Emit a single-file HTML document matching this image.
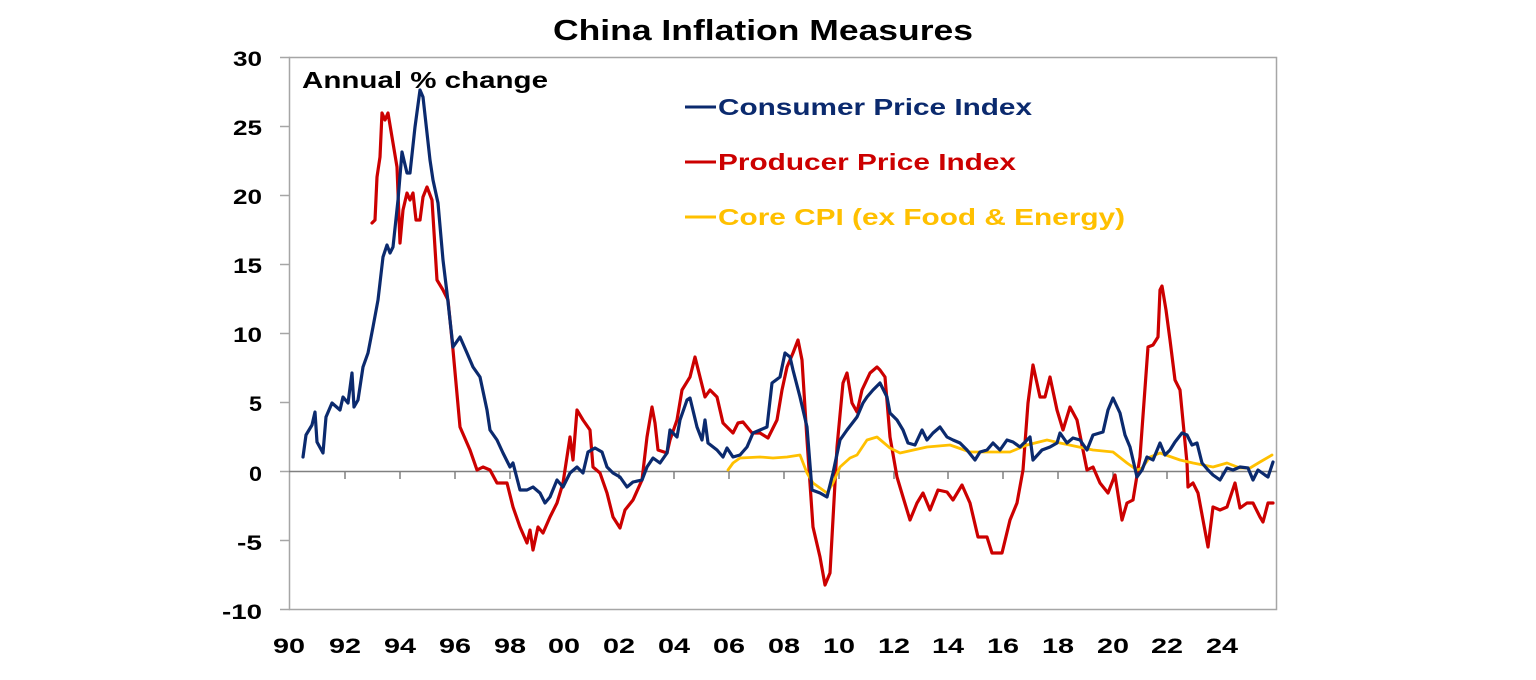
<!DOCTYPE html>
<html><head><meta charset="utf-8"><style>
html,body{margin:0;padding:0;background:#fff;}
svg{display:block;font-family:"Liberation Sans",Arial,sans-serif;font-weight:bold;}
</style></head><body>
<svg width="1536" height="680" viewBox="0 0 1536 680">
<rect width="1536" height="680" fill="#fff"/>
<text x="553" y="40" font-size="29" fill="#000" textLength="420" lengthAdjust="spacingAndGlyphs">China Inflation Measures</text>
<rect x="289.5" y="57.5" width="987" height="552" fill="none" stroke="#a6a6a6" stroke-width="1.5"/>
<g stroke="#a6a6a6" stroke-width="1.5">
<line x1="280" y1="57.5" x2="290" y2="57.5"/><line x1="280" y1="126.5" x2="290" y2="126.5"/>
<line x1="280" y1="195.5" x2="290" y2="195.5"/><line x1="280" y1="264.5" x2="290" y2="264.5"/>
<line x1="280" y1="333.5" x2="290" y2="333.5"/><line x1="280" y1="402.5" x2="290" y2="402.5"/>
<line x1="280" y1="471.5" x2="290" y2="471.5"/><line x1="280" y1="540.5" x2="290" y2="540.5"/>
<line x1="280" y1="609.5" x2="290" y2="609.5"/>
</g>
<line x1="289" y1="471.5" x2="1277" y2="471.5" stroke="#808080" stroke-width="1.5"/>
<g stroke="#808080" stroke-width="1.5">
<line x1="345" y1="471" x2="345" y2="479"/><line x1="400" y1="471" x2="400" y2="479"/><line x1="455" y1="471" x2="455" y2="479"/><line x1="510" y1="471" x2="510" y2="479"/><line x1="564" y1="471" x2="564" y2="479"/><line x1="619" y1="471" x2="619" y2="479"/><line x1="674" y1="471" x2="674" y2="479"/><line x1="729" y1="471" x2="729" y2="479"/><line x1="784" y1="471" x2="784" y2="479"/><line x1="839" y1="471" x2="839" y2="479"/><line x1="894" y1="471" x2="894" y2="479"/><line x1="948" y1="471" x2="948" y2="479"/><line x1="1003" y1="471" x2="1003" y2="479"/><line x1="1058" y1="471" x2="1058" y2="479"/><line x1="1113" y1="471" x2="1113" y2="479"/><line x1="1167" y1="471" x2="1167" y2="479"/><line x1="1222" y1="471" x2="1222" y2="479"/>
</g>
<g font-size="21" fill="#000">
<text x="233" y="66" textLength="29" lengthAdjust="spacingAndGlyphs">30</text>
<text x="233" y="135" textLength="29" lengthAdjust="spacingAndGlyphs">25</text>
<text x="233" y="204" textLength="29" lengthAdjust="spacingAndGlyphs">20</text>
<text x="233" y="273" textLength="29" lengthAdjust="spacingAndGlyphs">15</text>
<text x="233" y="342" textLength="29" lengthAdjust="spacingAndGlyphs">10</text>
<text x="249" y="411" textLength="13" lengthAdjust="spacingAndGlyphs">5</text>
<text x="249" y="481" textLength="13" lengthAdjust="spacingAndGlyphs">0</text>
<text x="237" y="550" textLength="25" lengthAdjust="spacingAndGlyphs">-5</text>
<text x="222" y="619" textLength="40" lengthAdjust="spacingAndGlyphs">-10</text>
</g>
<g font-size="21" fill="#000">
<text x="273" y="653" textLength="32" lengthAdjust="spacingAndGlyphs">90</text>
<text x="329" y="653" textLength="32" lengthAdjust="spacingAndGlyphs">92</text>
<text x="384" y="653" textLength="32" lengthAdjust="spacingAndGlyphs">94</text>
<text x="439" y="653" textLength="32" lengthAdjust="spacingAndGlyphs">96</text>
<text x="494" y="653" textLength="32" lengthAdjust="spacingAndGlyphs">98</text>
<text x="548" y="653" textLength="32" lengthAdjust="spacingAndGlyphs">00</text>
<text x="603" y="653" textLength="32" lengthAdjust="spacingAndGlyphs">02</text>
<text x="658" y="653" textLength="32" lengthAdjust="spacingAndGlyphs">04</text>
<text x="713" y="653" textLength="32" lengthAdjust="spacingAndGlyphs">06</text>
<text x="768" y="653" textLength="32" lengthAdjust="spacingAndGlyphs">08</text>
<text x="823" y="653" textLength="32" lengthAdjust="spacingAndGlyphs">10</text>
<text x="878" y="653" textLength="32" lengthAdjust="spacingAndGlyphs">12</text>
<text x="932" y="653" textLength="32" lengthAdjust="spacingAndGlyphs">14</text>
<text x="987" y="653" textLength="32" lengthAdjust="spacingAndGlyphs">16</text>
<text x="1042" y="653" textLength="32" lengthAdjust="spacingAndGlyphs">18</text>
<text x="1097" y="653" textLength="32" lengthAdjust="spacingAndGlyphs">20</text>
<text x="1151" y="653" textLength="32" lengthAdjust="spacingAndGlyphs">22</text>
<text x="1206" y="653" textLength="32" lengthAdjust="spacingAndGlyphs">24</text>
</g>
<text x="302" y="88" font-size="23" fill="#000" textLength="246" lengthAdjust="spacingAndGlyphs">Annual % change</text>
<line x1="685" y1="107" x2="716" y2="107" stroke="#0b2a6e" stroke-width="3"/>
<text x="718" y="115" font-size="23" fill="#0b2a6e" textLength="314" lengthAdjust="spacingAndGlyphs">Consumer Price Index</text>
<line x1="685" y1="162" x2="716" y2="162" stroke="#cc0000" stroke-width="3"/>
<text x="718" y="170" font-size="23" fill="#cc0000" textLength="298" lengthAdjust="spacingAndGlyphs">Producer Price Index</text>
<line x1="685" y1="217" x2="716" y2="217" stroke="#ffc000" stroke-width="3"/>
<text x="718" y="225" font-size="23" fill="#ffc000" textLength="407" lengthAdjust="spacingAndGlyphs">Core CPI (ex Food &amp; Energy)</text>
<g fill="none" stroke-width="3.2" stroke-linejoin="round" stroke-linecap="round">
<polyline stroke="#cc0000" points="372,223 375,220 377,177 380,157 382,113 385,120 388,113 392,137 397,167 400,243 403,210 407,193 410,200 413,193 416,220 420,220 423,197 427,187 432,200 437,280 443,290 448,300 453,350 460,427 470,450 477,470 483,467 490,470 497,483 507,483 513,507 520,527 527,543 530,530 533,550 538,527 543,533 550,517 557,503 563,483 570,437 573,460 577,410 583,420 590,430 593,467 600,473 607,493 613,517 620,528 625,510 633,500 642,480 647,437 652,407 655,423 658,450 667,453 670,440 677,420 682,390 690,377 695,357 700,377 705,397 710,390 717,397 723,423 733,433 738,423 743,422 752,433 760,433 768,438 777,420 782,390 787,367 793,353 798,340 802,360 807,440 813,527 820,557 825,585 830,573 837,447 843,383 847,373 852,403 857,412 862,390 870,373 877,367 880,370 885,377 890,437 897,477 903,497 910,520 917,503 923,493 930,510 938,490 947,492 953,500 962,485 970,503 978,537 987,537 992,553 1002,553 1010,520 1017,503 1023,470 1028,403 1033,365 1040,397 1045,397 1050,377 1057,410 1063,430 1070,407 1077,420 1087,470 1093,467 1100,483 1108,493 1115,475 1122,520 1127,503 1133,500 1140,457 1148,347 1153,345 1158,337 1160,290 1162,286 1166,310 1170,340 1175,380 1180,390 1187,463 1188,487 1193,483 1198,493 1203,520 1208,547 1213,507 1220,510 1227,507 1235,483 1240,508 1247,503 1253,503 1260,517 1263,522 1268,503 1273,503"/>
<polyline stroke="#ffc000" stroke-width="2.8" points="728,470 733,463 740,458 760,457 773,458 787,457 800,455 807,473 813,483 827,493 833,483 840,467 850,458 857,455 867,440 877,437 890,448 900,453 927,447 950,445 970,452 993,452 1010,452 1027,445 1047,440 1060,443 1093,450 1113,452 1127,463 1137,470 1142,468 1150,457 1160,453 1180,460 1193,463 1213,467 1227,463 1240,468 1250,468 1260,462 1272,455"/>
<polyline stroke="#0b2a6e" points="303,457 306,435 312,425 315,412 317,442 323,453 326,417 332,403 340,410 343,397 348,403 352,373 354,407 358,400 363,367 368,353 373,327 378,300 383,257 387,245 390,253 393,247 398,200 402,152 407,173 410,173 415,127 420,90 423,97 430,160 433,180 438,203 443,260 447,293 453,347 460,337 467,353 473,367 480,377 487,410 490,430 497,440 503,453 510,467 513,463 520,490 527,490 533,487 540,493 545,503 550,497 557,480 563,487 570,473 577,467 583,473 588,452 595,448 602,452 607,467 613,473 620,477 627,487 633,482 642,480 647,467 653,458 660,463 667,453 670,430 677,437 680,420 687,400 690,398 697,427 702,440 705,420 708,443 717,450 723,457 727,448 733,457 740,455 747,447 753,433 760,430 767,427 772,383 780,377 785,353 790,357 793,370 800,397 807,427 812,490 820,493 827,497 833,473 840,440 847,430 857,417 863,403 867,397 873,390 880,383 887,397 890,413 897,420 903,430 908,443 915,445 922,430 927,440 933,433 940,427 947,437 953,440 960,443 967,450 975,460 980,452 987,450 993,443 1000,450 1007,440 1013,442 1020,447 1030,437 1033,460 1042,450 1050,447 1057,443 1060,433 1067,443 1073,438 1080,440 1087,450 1093,435 1103,432 1108,410 1113,398 1120,413 1125,435 1130,447 1137,477 1142,470 1147,457 1153,460 1160,443 1165,455 1170,450 1175,442 1182,433 1187,435 1192,445 1197,443 1202,463 1208,470 1213,475 1220,480 1227,468 1233,470 1240,467 1248,468 1253,480 1258,470 1265,475 1268,477 1273,462"/>
</g>
</svg>
</body></html>
